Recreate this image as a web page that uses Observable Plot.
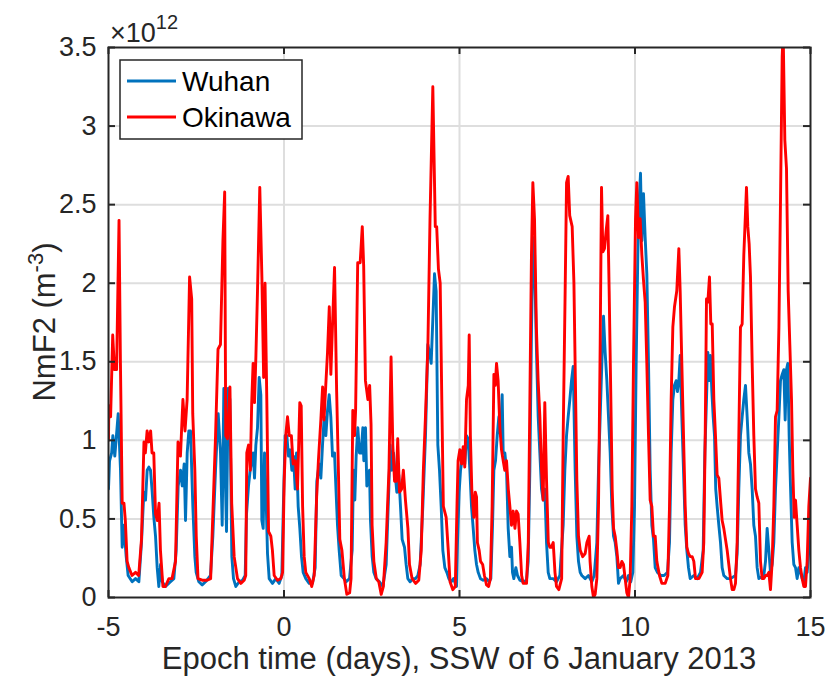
<!DOCTYPE html>
<html><head><meta charset="utf-8">
<script src="https://cdn.jsdelivr.net/npm/d3@7"></script>
<script src="https://cdn.jsdelivr.net/npm/@observablehq/plot@0.6"></script>
<style>body{margin:0;background:#fff;}</style>
</head><body><div id="chart"></div>
<script>
// Tick values
const xTicks = [-5, 0, 5, 10, 15];
const yTicks = [0, 0.5, 1, 1.5, 2, 2.5, 3, 3.5];
const xGrid = [0, 5, 10];
const yGrid = [0.5, 1, 1.5, 2, 2.5, 3];
const seriesNames = ["Wuhan", "Okinawa"];
const seriesColors = ["#0072BD", "#FF0000"];
const xTitle = "Epoch time (days), SSW of 6 January 2013";

// [epoch day, NmF2 in units of 1e12 m^-3]
const wuhan = [
[-5.00,0.69],[-4.97,0.87],[-4.91,0.92],[-4.876,1.03],[-4.82,0.90],[-4.724,1.17],[-4.658,0.81],[-4.61,0.32],[-4.563,0.46],[-4.496,0.26],[-4.44,0.14],[-4.325,0.10],[-4.23,0.12],[-4.135,0.10],
[-4.06,0.35],[-3.993,0.67],[-3.945,0.62],[-3.898,0.81],[-3.85,0.83],[-3.803,0.81],[-3.755,0.67],[-3.708,0.51],[-3.66,0.39],[-3.613,0.19],[-3.566,0.07],[-3.518,0.21],[-3.47,0.10],[-3.376,0.07],[-3.233,0.10],[-3.138,0.12],
[-3.072,0.30],[-3.015,0.71],[-2.948,0.81],[-2.9,0.71],[-2.844,0.85],[-2.806,0.49],[-2.758,0.92],[-2.711,1.06],[-2.663,1.06],[-2.597,0.58],[-2.54,0.26],[-2.502,0.16],[-2.426,0.10],[-2.331,0.08],[-2.236,0.10],[-2.094,0.14],
[-2.027,0.39],[-1.951,0.81],[-1.875,1.17],[-1.809,0.92],[-1.761,0.46],[-1.714,1.33],[-1.676,0.81],[-1.638,0.42],[-1.59,1.33],[-1.543,1.26],[-1.486,0.26],[-1.439,0.12],[-1.372,0.07],[-1.277,0.10],[-1.182,0.11],[-1.106,0.14],
[-1.068,0.53],[-1.011,0.71],[-0.964,0.81],[-0.916,0.87],[-0.878,0.92],[-0.84,0.76],[-0.802,0.97],[-0.755,1.08],[-0.707,1.40],[-0.66,1.29],[-0.631,0.49],[-0.593,0.44],[-0.555,0.92],[-0.517,0.69],[-0.47,0.28],[-0.422,0.12],[-0.328,0.09],[-0.233,0.12],[-0.138,0.09],[-0.062,0.14],
[-0.014,0.62],[0.033,1.03],[0.081,1.03],[0.128,0.90],[0.176,0.94],[0.223,0.81],[0.271,0.90],[0.318,0.69],[0.356,0.92],[0.404,0.58],[0.451,0.44],[0.499,0.26],[0.546,0.16],[0.622,0.12],[0.717,0.09],[0.812,0.09],[0.888,0.19],
[0.936,0.74],[1.002,0.85],[1.05,0.76],[1.097,0.97],[1.145,1.15],[1.192,1.03],[1.24,1.19],[1.287,1.29],[1.334,1.15],[1.382,0.90],[1.439,0.92],[1.477,0.71],[1.524,0.46],[1.572,0.30],[1.629,0.14],[1.714,0.12],[1.771,0.10],[1.866,0.12],
[1.942,0.30],[1.98,0.81],[2.018,0.62],[2.056,0.90],[2.103,1.08],[2.151,0.92],[2.198,0.92],[2.246,1.08],[2.274,0.87],[2.322,1.08],[2.36,0.71],[2.398,0.76],[2.436,0.81],[2.464,0.49],[2.512,0.26],[2.559,0.16],[2.626,0.12],[2.721,0.10],[2.816,0.07],
[2.911,0.21],[2.986,0.69],[3.024,0.97],[3.072,0.81],[3.12,0.92],[3.157,0.81],[3.214,0.67],[3.271,0.78],[3.319,0.58],[3.366,0.37],[3.433,0.32],[3.48,0.21],[3.528,0.12],[3.594,0.10],[3.67,0.12],[3.746,0.12],[3.813,0.14],
[3.879,0.21],[3.955,0.58],[4.031,1.03],[4.098,1.61],[4.145,1.56],[4.193,1.49],[4.24,1.77],[4.288,2.06],[4.335,1.95],[4.383,0.97],[4.43,0.81],[4.478,0.58],[4.525,0.30],[4.582,0.19],[4.639,0.16],[4.696,0.12],[4.762,0.10],[4.829,0.12],[4.915,0.07],
[4.943,0.35],[4.99,0.67],[5.029,0.81],[5.067,0.87],[5.105,0.94],[5.152,0.85],[5.2,1.03],[5.247,1.01],[5.295,0.81],[5.342,0.58],[5.39,0.44],[5.437,0.30],[5.485,0.21],[5.532,0.16],[5.599,0.12],[5.675,0.11],[5.77,0.12],[5.846,0.10],[5.893,0.12],
[5.941,0.46],[5.979,0.81],[6.026,0.87],[6.074,1.03],[6.121,1.15],[6.169,1.03],[6.216,1.29],[6.245,0.92],[6.292,0.92],[6.34,0.81],[6.387,0.44],[6.435,0.26],[6.482,0.32],[6.51,0.16],[6.548,0.12],[6.605,0.19],[6.653,0.14],[6.719,0.11],[6.814,0.10],[6.909,0.11],
[6.957,0.23],[7.004,0.81],[7.052,1.72],[7.099,2.29],[7.147,2.06],[7.194,1.56],[7.242,1.15],[7.289,0.92],[7.337,0.69],[7.384,0.62],[7.432,0.69],[7.479,0.35],[7.527,0.16],[7.574,0.12],[7.669,0.12],[7.764,0.10],[7.859,0.14],
[7.954,0.46],[8.001,0.81],[8.049,1.03],[8.096,1.15],[8.144,1.26],[8.191,1.38],[8.239,1.47],[8.295,0.81],[8.343,0.39],[8.39,0.23],[8.438,0.16],[8.485,0.14],[8.58,0.12],[8.675,0.14],[8.77,0.10],[8.837,0.14],
[8.913,0.35],[8.96,0.81],[9.008,1.15],[9.055,1.49],[9.103,1.79],[9.15,1.56],[9.198,1.38],[9.245,1.15],[9.293,0.92],[9.34,0.58],[9.388,0.39],[9.435,0.35],[9.483,0.26],[9.53,0.09],[9.577,0.12],[9.672,0.14],[9.75,0.10],[9.815,0.14],[9.88,0.10],[9.938,0.16],
[9.986,0.58],[10.033,1.49],[10.08,2.18],[10.119,2.52],[10.157,2.70],[10.195,2.27],[10.242,2.57],[10.29,2.29],[10.337,2.06],[10.385,1.49],[10.432,0.81],[10.48,0.46],[10.527,0.37],[10.575,0.19],[10.64,0.16],[10.736,0.14],[10.83,0.14],[10.926,0.16],
[10.983,0.35],[11.03,0.92],[11.078,1.26],[11.125,1.35],[11.173,1.38],[11.21,1.31],[11.249,1.38],[11.287,1.54],[11.334,1.15],[11.382,0.81],[11.43,0.46],[11.477,0.30],[11.524,0.19],[11.572,0.12],[11.676,0.14],[11.77,0.12],[11.866,0.16],
[11.942,0.30],[11.99,0.92],[12.037,1.26],[12.075,1.56],[12.113,1.38],[12.15,1.54],[12.19,1.31],[12.227,1.15],[12.265,1.03],[12.3,0.69],[12.34,0.58],[12.388,0.46],[12.436,0.35],[12.483,0.19],[12.53,0.14],[12.626,0.12],[12.72,0.12],[12.863,0.14],
[12.91,0.28],[12.958,0.69],[13.005,1.03],[13.053,1.15],[13.1,1.26],[13.148,1.35],[13.195,1.15],[13.243,0.92],[13.29,0.85],[13.338,0.69],[13.385,0.46],[13.433,0.39],[13.48,0.19],[13.528,0.12],[13.67,0.14],[13.718,0.23],[13.765,0.44],[13.813,0.30],[13.86,0.16],[13.908,0.21],
[13.955,0.35],[14.003,0.69],[14.05,0.92],[14.1,1.15],[14.145,1.38],[14.193,1.42],[14.24,1.45],[14.278,1.13],[14.316,1.45],[14.354,1.49],[14.392,1.03],[14.43,0.71],[14.478,0.35],[14.525,0.21],[14.573,0.19],[14.62,0.12],[14.668,0.19],[14.715,0.16],[14.763,0.12],[14.81,0.10],[14.857,0.19],[14.905,0.16],[14.952,0.30],[15.0,0.58]
];

const okinawa = [
[-5.00,1.00],[-4.99,1.22],[-4.94,1.15],[-4.88,1.67],[-4.83,1.45],[-4.77,1.45],[-4.70,2.40],[-4.66,1.49],[-4.61,0.60],[-4.56,0.60],[-4.52,0.49],[-4.47,0.23],[-4.42,0.19],[-4.33,0.14],[-4.23,0.16],[-4.14,0.14],
[-4.06,0.37],[-3.99,0.99],[-3.95,0.92],[-3.90,1.06],[-3.85,0.99],[-3.80,1.06],[-3.76,0.92],[-3.71,0.92],[-3.66,0.53],[-3.61,0.49],[-3.56,0.60],[-3.52,0.30],[-3.45,0.07],[-3.38,0.07],[-3.28,0.12],[-3.19,0.12],
[-3.09,0.23],[-3.02,0.99],[-2.95,0.90],[-2.88,1.26],[-2.82,1.06],[-2.76,1.26],[-2.69,2.04],[-2.63,1.90],[-2.60,1.17],[-2.54,0.81],[-2.50,0.39],[-2.45,0.12],[-2.33,0.11],[-2.19,0.11],[-2.09,0.12],
[-2.03,0.51],[-1.95,1.03],[-1.88,1.58],[-1.81,1.61],[-1.74,2.27],[-1.69,2.58],[-1.66,1.03],[-1.61,1.01],[-1.54,1.34],[-1.49,0.60],[-1.42,0.26],[-1.325,0.12],[-1.23,0.09],[-1.135,0.11],[-1.09,0.14],
[-1.06,0.92],[-1.01,0.97],[-0.96,0.81],[-0.92,1.24],[-0.88,1.49],[-0.84,1.24],[-0.80,1.54],[-0.755,1.95],[-0.69,2.61],[-0.63,2.04],[-0.58,1.40],[-0.54,2.00],[-0.49,1.26],[-0.44,0.42],[-0.375,0.39],[-0.33,0.30],[-0.28,0.14],[-0.185,0.11],[-0.09,0.12],[-0.04,0.16],
[0.005,0.74],[0.05,1.03],[0.10,1.15],[0.15,1.03],[0.21,1.03],[0.26,0.85],[0.32,0.87],[0.385,0.69],[0.45,1.24],[0.49,1.22],[0.53,0.58],[0.575,0.26],[0.62,0.16],[0.72,0.12],[0.79,0.07],[0.86,0.14],
[0.93,0.64],[0.98,0.87],[1.05,1.13],[1.10,1.34],[1.14,1.13],[1.19,1.35],[1.24,1.56],[1.29,1.85],[1.335,1.42],[1.38,1.72],[1.44,2.10],[1.50,1.31],[1.55,0.81],[1.59,0.37],[1.65,0.30],[1.72,0.12],[1.79,0.02],[1.87,0.03],[1.91,0.12],
[1.96,1.19],[2.01,1.03],[2.04,1.19],[2.10,2.13],[2.17,2.13],[2.23,2.36],[2.27,2.11],[2.32,1.38],[2.39,1.26],[2.44,1.35],[2.48,1.10],[2.51,0.46],[2.56,0.23],[2.63,0.12],[2.70,0.10],[2.77,0.02],[2.83,0.07],
[2.91,0.35],[2.99,0.81],[3.05,1.53],[3.10,0.97],[3.15,0.74],[3.20,0.74],[3.24,1.01],[3.29,0.67],[3.35,0.69],[3.40,0.81],[3.46,0.62],[3.53,0.44],[3.575,0.21],[3.65,0.12],[3.75,0.09],[3.84,0.11],
[3.91,0.30],[3.97,0.81],[4.03,1.15],[4.10,1.61],[4.16,2.41],[4.24,3.25],[4.31,2.36],[4.35,2.36],[4.40,2.09],[4.45,2.00],[4.50,1.19],[4.54,0.58],[4.62,0.51],[4.68,0.30],[4.73,0.10],[4.81,0.05],[4.88,0.07],
[4.93,0.60],[4.96,0.87],[5.01,0.94],[5.06,0.85],[5.105,0.96],[5.15,0.83],[5.20,1.26],[5.25,1.35],[5.276,1.67],[5.31,1.03],[5.35,0.69],[5.41,0.51],[5.45,0.67],[5.485,0.64],[5.51,0.35],[5.56,0.30],[5.60,0.23],[5.66,0.21],[5.71,0.14],[5.77,0.08],[5.83,0.07],[5.88,0.12],
[5.93,0.58],[5.98,1.42],[6.02,1.35],[6.055,1.49],[6.10,1.38],[6.15,1.08],[6.197,0.94],[6.245,0.87],[6.29,0.81],[6.34,0.87],[6.39,0.69],[6.435,0.58],[6.48,0.46],[6.53,0.55],[6.58,0.44],[6.625,0.55],[6.67,0.53],[6.72,0.35],[6.77,0.14],[6.815,0.09],[6.91,0.09],
[6.96,0.35],[7.005,1.26],[7.05,2.18],[7.09,2.64],[7.137,2.41],[7.19,1.72],[7.24,1.38],[7.29,1.15],[7.337,0.81],[7.384,0.62],[7.43,1.24],[7.48,0.74],[7.53,0.35],[7.574,0.32],[7.62,0.32],[7.67,0.35],[7.72,0.16],[7.764,0.07],[7.83,0.05],[7.91,0.12],
[7.954,1.03],[8.01,1.95],[8.05,2.64],[8.096,2.68],[8.14,2.43],[8.21,2.36],[8.26,2.00],[8.30,1.40],[8.343,0.75],[8.39,0.39],[8.44,0.30],[8.51,0.26],[8.58,0.28],[8.63,0.35],[8.694,0.39],[8.72,0.23],[8.77,0.07],[8.818,0.00],[8.865,0.02],[8.913,0.12],
[8.96,0.58],[9.008,1.61],[9.046,2.61],[9.084,2.20],[9.13,2.22],[9.18,2.34],[9.226,2.43],[9.264,1.95],[9.312,1.26],[9.35,0.69],[9.388,0.44],[9.435,0.39],[9.483,0.30],[9.53,0.19],[9.577,0.19],[9.625,0.23],[9.672,0.21],[9.72,0.12],[9.767,0.03],[9.815,0.00],[9.862,0.12],
[9.91,0.58],[9.957,1.49],[10.015,2.41],[10.052,2.64],[10.1,2.29],[10.147,2.41],[10.195,2.18],[10.242,2.02],[10.29,1.88],[10.337,1.49],[10.385,1.03],[10.432,0.62],[10.48,0.58],[10.527,0.39],[10.575,0.39],[10.622,0.23],[10.698,0.14],[10.765,0.09],[10.86,0.09],[10.936,0.14],
[10.983,0.58],[11.03,1.26],[11.078,1.72],[11.125,1.85],[11.19,1.95],[11.249,2.22],[11.287,1.95],[11.334,1.49],[11.382,1.03],[11.43,0.58],[11.477,0.32],[11.524,0.28],[11.572,0.26],[11.63,0.26],[11.676,0.23],[11.724,0.12],[11.82,0.12],[11.913,0.16],
[11.96,0.35],[12.0,1.03],[12.037,1.90],[12.075,1.88],[12.122,2.04],[12.16,1.74],[12.2,1.74],[12.246,1.26],[12.293,1.03],[12.34,0.78],[12.388,0.76],[12.436,0.62],[12.483,0.49],[12.53,0.44],[12.578,0.37],[12.626,0.30],[12.673,0.21],[12.72,0.12],[12.768,0.05],[12.816,0.05],[12.863,0.09],
[12.91,0.35],[12.958,1.03],[13.005,1.72],[13.053,1.74],[13.1,2.18],[13.148,2.45],[13.176,2.61],[13.214,2.36],[13.252,2.25],[13.29,2.04],[13.338,1.49],[13.385,1.03],[13.433,0.69],[13.48,0.64],[13.528,0.60],[13.575,0.23],[13.623,0.12],[13.67,0.12],[13.718,0.14],[13.765,0.14],[13.813,0.16],[13.86,0.05],
[13.908,0.23],[13.955,0.58],[14.003,1.15],[14.05,1.19],[14.1,1.72],[14.145,2.52],[14.193,3.44],[14.221,3.60],[14.269,2.91],[14.316,2.73],[14.364,1.95],[14.411,1.61],[14.459,1.26],[14.496,0.81],[14.535,0.51],[14.573,0.62],[14.62,0.46],[14.668,0.30],[14.715,0.19],[14.763,0.12],[14.81,0.07],[14.857,0.07],[14.905,0.23],[14.952,0.58],[15.0,0.76]
];

const W = 829, H = 678, mL = 108, mR = 19, mT = 47, mB = 81;
const pw = W - mL - mR, ph = H - mT - mB;
const font = "'Liberation Sans', Arial, Helvetica, sans-serif";
const ink = "#262626";
const toRows = arr => arr.map(([t, v]) => ({t, v}));

const chart = Plot.plot({
  width: W, height: H,
  marginLeft: mL, marginRight: mR, marginTop: mT, marginBottom: mB,
  style: {fontFamily: font, background: "#fff", color: ink},
  x: {domain: [-5, 15]},
  y: {domain: [0, 3.5]},
  marks: [
    Plot.ruleX(xGrid, {stroke: "#dedede", strokeWidth: 2}),
    Plot.ruleY(yGrid, {stroke: "#dedede", strokeWidth: 2}),
    Plot.line(toRows(wuhan), {x: "t", y: "v", stroke: seriesColors[0], strokeWidth: 2.9, clip: true}),
    Plot.line(toRows(okinawa), {x: "t", y: "v", stroke: seriesColors[1], strokeWidth: 2.9, clip: true}),
    Plot.tickX(xTicks, {insetTop: ph - 7, stroke: ink, strokeWidth: 2}),
    Plot.tickX(xTicks, {insetBottom: ph - 7, stroke: ink, strokeWidth: 2}),
    Plot.tickY(yTicks, {insetRight: pw - 7, stroke: ink, strokeWidth: 2}),
    Plot.tickY(yTicks, {insetLeft: pw - 7, stroke: ink, strokeWidth: 2}),
    Plot.frame({stroke: ink, strokeWidth: 2}),
    Plot.axisX({ticks: xTicks, tickSize: 0, tickPadding: 19, tickFormat: d => String(d), fontSize: 27, label: null}),
    Plot.axisY({ticks: yTicks, tickSize: 0, tickPadding: 12, tickFormat: d => String(d), fontSize: 27, label: null})
  ]
});
document.getElementById("chart").appendChild(chart);

const svg = d3.select(chart);
// x-axis title
svg.append("text")
  .attr("x", mL + pw / 2).attr("y", 669)
  .attr("text-anchor", "middle").attr("font-size", 31).attr("fill", ink)
  .attr("font-family", font)
  .text(xTitle);
// y-axis title with superscript
const yl = svg.append("text")
  .attr("transform", `translate(55,${mT + ph / 2}) rotate(-90)`)
  .attr("text-anchor", "middle").attr("font-size", 31).attr("fill", ink)
  .attr("font-family", font);
yl.append("tspan").text("NmF2 (m");
yl.append("tspan").attr("dy", -12).attr("font-size", 22).text("-3");
yl.append("tspan").attr("dy", 12).text(")");
// exponent label
const ex = svg.append("text")
  .attr("x", 110).attr("y", 42).attr("text-anchor", "start")
  .attr("font-size", 27).attr("fill", ink).attr("font-family", font);
ex.append("tspan").text("\u00d710");
ex.append("tspan").attr("dy", -13).attr("font-size", 20).text("12");
// legend
const lg = svg.append("g");
lg.append("rect").attr("x", 120).attr("y", 60).attr("width", 182).attr("height", 79)
  .attr("fill", "#fff").attr("stroke", ink).attr("stroke-width", 1.5);
seriesNames.forEach((name, i) => {
  const y = 81 + i * 36;
  lg.append("line").attr("x1", 127).attr("x2", 176).attr("y1", y).attr("y2", y)
    .attr("stroke", seriesColors[i]).attr("stroke-width", 2.8);
  lg.append("text").attr("x", 182).attr("y", y + 10).attr("text-anchor", "start")
    .attr("font-size", 28).attr("fill", "#000").attr("font-family", font).text(name);
});
</script>
</body></html>
